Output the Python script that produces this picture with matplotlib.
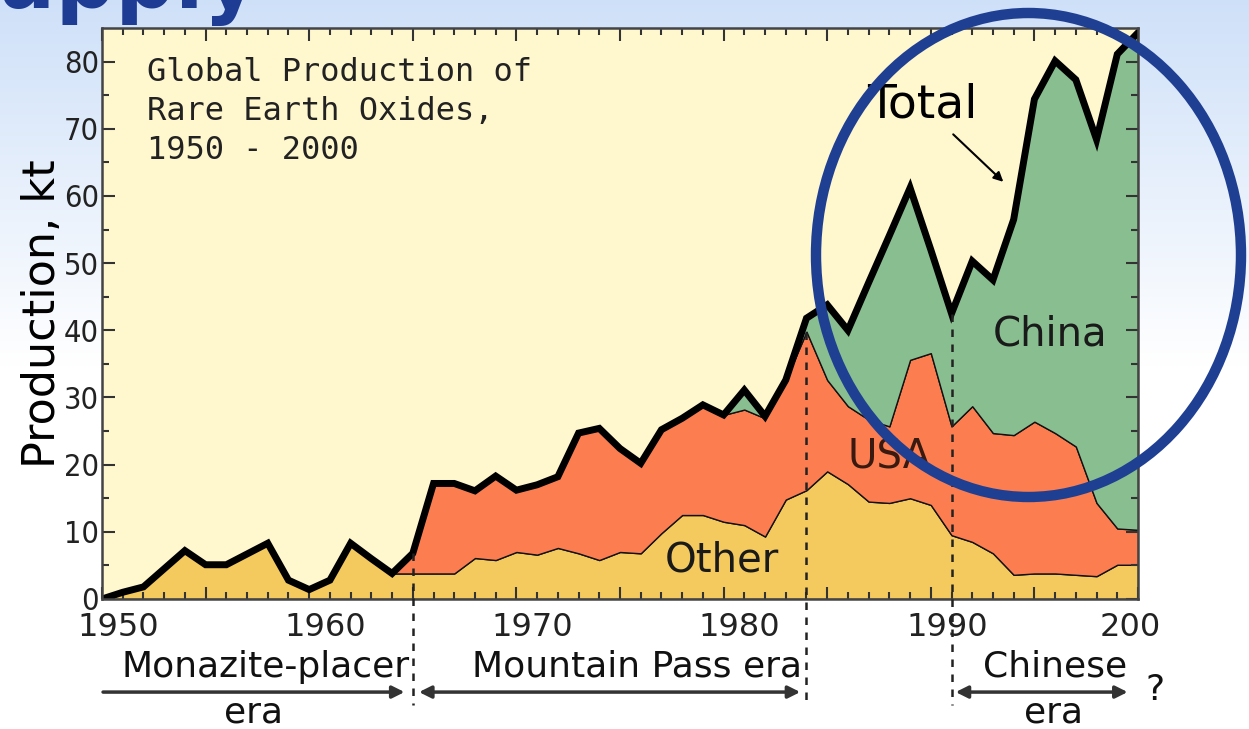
import matplotlib.pyplot as plt
import numpy as np
from matplotlib.patches import Ellipse
from matplotlib.transforms import ScaledTranslation

# production by source, kt of rare earth oxides
years = np.arange(1950, 2001)
other = [0.0, 1.0, 1.8, 4.5, 7.2, 5.1, 5.1, 6.7, 8.3, 2.8,
         1.4, 2.8, 8.3, 6.0, 3.8, 3.8, 3.8, 3.8, 6.1, 5.8,
         7.0, 6.6, 7.6, 6.8, 5.8, 7.0, 6.8, 9.8, 12.5, 12.5,
         11.5, 11.0, 9.3, 14.8, 16.2, 19.0, 17.1, 14.5, 14.3, 15.0,
         14.0, 9.5, 8.5, 6.8, 3.6, 3.8, 3.8, 3.6, 3.4, 5.1, 5.1]
usa = [0.0] * 15 + [3.0, 13.4, 13.4, 10.0, 12.5,
                    9.2, 10.4, 10.6, 17.9, 19.6, 15.4, 13.4, 15.4, 14.4, 16.4,
                    15.9, 17.2, 17.6, 17.8, 23.6, 13.6, 11.6, 12.2, 11.4, 20.6,
                    22.6, 16.2, 20.2, 17.9, 20.8, 22.6, 20.9, 19.1, 10.9, 5.4, 5.2]
china = [0.0] * 30 + [0.0, 2.9, 0.3, 0.0, 2.0, 11.2, 11.3, 20.4, 28.4, 25.6,
                      15.4, 16.8, 21.6, 22.8, 32.1, 48.0, 55.4, 54.6, 54.1, 70.6, 74.0]

x_ticks = [1950, 1960, 1970, 1980, 1990, 2000]
x_labels = ['1950', '1960', '1970', '1980', '1990', '200']
era_bounds = [1965, 1984, 1991]

total = np.array(other) + np.array(usa) + np.array(china)
usa_top = np.array(other) + np.array(usa)

fig = plt.figure(figsize=(12.49, 7.29), dpi=100)

# slide background: light blue fading to white
bg = fig.add_axes([0, 0, 1, 1], zorder=-10)
t = np.clip(np.linspace(0, 1, 300) / 0.5, 0, 1)[:, None]
top = np.array([0.81, 0.88, 0.975])
grad = (top * (1 - t) + np.ones(3) * t)[:, None, :]
bg.imshow(grad, aspect='auto', extent=[0, 1, 0, 1])
bg.axis('off')

fig.text(258 / 1249, 1 - 8 / 729, 'Supply', ha='right', va='baseline',
         fontsize=60, fontweight='bold', color='#1F3C94')

ax = fig.add_axes([102 / 1249, 130 / 729, 1036 / 1249, 571 / 729])
ax.set_facecolor('#FFF8CE')
ax.stackplot(years, other, usa, china,
             colors=['#F4C95D', '#FC7E50', '#88BE90'],
             edgecolor='#111111', linewidth=1.0)
ax.plot(years, total, color='black', lw=5, solid_joinstyle='miter')

ax.set_xlim(1950, 2000)
ax.set_ylim(0, 85)
ax.set_xticks(np.arange(1950, 2001, 5))
ax.set_xticklabels([x_labels[x_ticks.index(v)] if v in x_ticks else ''
                    for v in np.arange(1950, 2001, 5)])
ax.set_xticks(np.arange(1950, 2001, 1), minor=True)
ax.set_yticks(np.arange(0, 81, 10))
ax.set_yticks(np.arange(0, 85, 5), minor=True)
ax.tick_params(which='both', direction='in', top=True, right=True,
               color='#333333', width=1.5, labelcolor='#222222')
ax.tick_params(which='major', length=9)
ax.tick_params(which='minor', length=5)
ax.tick_params(axis='x', pad=9, labelsize=23)
ax.tick_params(axis='y', pad=2, labelsize=22)
for s in ax.spines.values():
    s.set_color('#444444')
    s.set_linewidth(1.8)

for lbl in ax.get_yticklabels():
    lbl.set_fontstretch('condensed')
for lbl in ax.get_xticklabels():
    if lbl.get_text() == '200':
        lbl.set_horizontalalignment('left')
        lbl.set_transform(lbl.get_transform() + ScaledTranslation(-0.38, 0, fig.dpi_scale_trans))
    else:
        lbl.set_transform(lbl.get_transform() + ScaledTranslation(0.16, 0, fig.dpi_scale_trans))

ax.set_ylabel('Production, kt', fontsize=32)
ax.yaxis.set_label_coords(-0.037, 0.5)

ax.text(0.043, 0.95, 'Global Production of\nRare Earth Oxides,\n1950 - 2000',
        transform=ax.transAxes, ha='left', va='top', fontsize=23,
        family='DejaVu Sans Mono', color='#222222', linespacing=1.35)

ax.annotate('Total', xy=(1993.5, 62.1), xytext=(1989.6, 73.5),
            ha='center', va='center', fontsize=34, color='black',
            arrowprops=dict(arrowstyle='-|>', lw=1.5, color='black',
                            mutation_scale=14, shrinkA=4, shrinkB=0))
ax.text(1995.75, 39.3, 'China', ha='center', va='center', fontsize=29, color='#1a1a1a')
ax.text(1988.0, 21.0, 'USA', ha='center', va='center', fontsize=29, color='#3a1a10')
ax.text(1979.9, 5.8, 'Other', ha='center', va='center', fontsize=29, color='#1a1a1a')

# era boundaries
tops = {1965: total[15], 1984: usa_top[34], 1991: total[41]}
for yr in era_bounds:
    ax.plot([yr, yr], [tops[yr], -15.8], color='#222222', lw=1.8,
            linestyle=(0, (3, 3)), clip_on=False, zorder=5)

xt = ax.get_xaxis_transform()
lab = dict(transform=xt, ha='center', va='center', fontsize=26,
           color='#111111', clip_on=False)
ax.text(1957.9, -0.119, 'Monazite-placer', **lab)
ax.text(1957.3, -0.198, 'era', **lab)
ax.text(1975.8, -0.119, 'Mountain Pass era', **lab)
ax.text(1996.0, -0.119, 'Chinese', **lab)
ax.text(1995.9, -0.198, 'era', **lab)
ax.text(2000.8, -0.16, '?', **lab)

arr = dict(color='#333333', lw=2.5, mutation_scale=18, shrinkA=0, shrinkB=0)
ax.annotate('', xy=(1964.6, -0.163), xytext=(1950.05, -0.163), xycoords=xt,
            textcoords=xt, arrowprops=dict(arrowstyle='-|>', **arr), annotation_clip=False)
ax.annotate('', xy=(1983.7, -0.163), xytext=(1965.3, -0.163), xycoords=xt,
            textcoords=xt, arrowprops=dict(arrowstyle='<|-|>', **arr), annotation_clip=False)
ax.annotate('', xy=(1999.5, -0.163), xytext=(1991.2, -0.163), xycoords=xt,
            textcoords=xt, arrowprops=dict(arrowstyle='<|-|>', **arr), annotation_clip=False)

# highlight ring drawn on the slide
fig.add_artist(Ellipse((1028.5 / 1249, 1 - 255 / 729), 425 / 1249, 484 / 729,
                       transform=fig.transFigure, fill=False,
                       ec='#1F3F93', lw=7.5, zorder=20))

fig.savefig('out.png', dpi=100)
